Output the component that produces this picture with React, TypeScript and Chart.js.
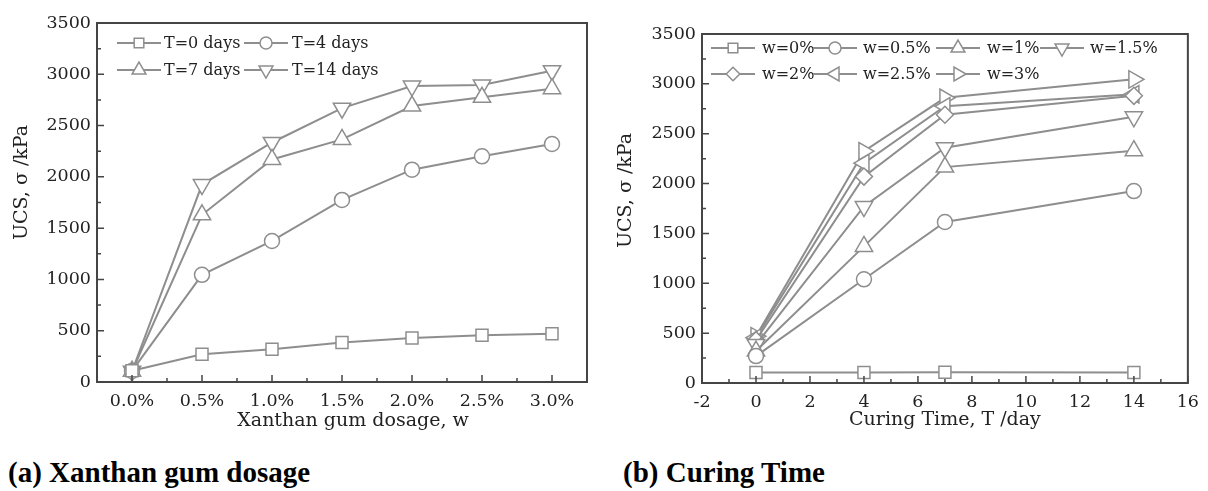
import React, { useEffect, useRef } from 'react';
import { Chart, registerables } from 'chart.js';
import { drawPoint } from 'chart.js/helpers';

Chart.register(...registerables);

// ---------- data: (a) Xanthan gum dosage ----------
const dosageLabels = ['0.0%', '0.5%', '1.0%', '1.5%', '2.0%', '2.5%', '3.0%'];
const seriesNamesA = ['T=0 days', 'T=4 days', 'T=7 days', 'T=14 days'];
const ucsT0 = [110, 270, 320, 385, 430, 455, 470];
const ucsT4 = [108, 1045, 1375, 1775, 2070, 2200, 2320];
const ucsT7 = [105, 1630, 2170, 2365, 2690, 2775, 2860];
const ucsT14 = [105, 1925, 2335, 2670, 2885, 2895, 3035];

// ---------- data: (b) Curing time ----------
const curingDays = [0, 4, 7, 14];
const seriesNamesB = ['w=0%', 'w=0.5%', 'w=1%', 'w=1.5%', 'w=2%', 'w=2.5%', 'w=3%'];
const ucsW0 = [105, 105, 108, 105];
const ucsW05 = [270, 1040, 1615, 1925];
const ucsW1 = [320, 1370, 2165, 2330];
const ucsW15 = [385, 1770, 2360, 2670];
const ucsW2 = [430, 2070, 2690, 2880];
const ucsW25 = [455, 2205, 2775, 2895];
const ucsW3 = [470, 2325, 2860, 3045];

// ---------- axis settings ----------
const ucsMin = 0;
const ucsMax = 3500;
const ucsStep = 500;
const curingMin = -2;
const curingMax = 16;
const curingStep = 2;

const titleA_x = 'Xanthan gum dosage, w';
const titleB_x = 'Curing Time, T /day';
const titleY = 'UCS, \u03c3 /kPa';

// ---------- styles ----------
const LINE = '#8e8e8e';
const FRAME = '#454545';
const TEXT = '#222222';
const FONT = '"DejaVu Serif", "Liberation Serif", serif';

type Marker = { style: string; r: number; rot: number };
const markersA: Marker[] = [
  { style: 'rect', r: 8.5, rot: 0 },
  { style: 'circle', r: 7.5, rot: 0 },
  { style: 'triangle', r: 10, rot: 0 },
  { style: 'triangle', r: 10, rot: 180 },
];
const markersB: Marker[] = [
  { style: 'rect', r: 8.5, rot: 0 },
  { style: 'circle', r: 7.5, rot: 0 },
  { style: 'triangle', r: 10, rot: 0 },
  { style: 'triangle', r: 10, rot: 180 },
  { style: 'rectRot', r: 8.5, rot: 0 },
  { style: 'triangle', r: 10, rot: 270 },
  { style: 'triangle', r: 10, rot: 90 },
];

function dsStyle(m: Marker) {
  return {
    borderColor: LINE,
    borderWidth: 2,
    pointStyle: m.style,
    pointRadius: m.r,
    pointHoverRadius: m.r,
    pointRotation: m.rot,
    pointBackgroundColor: '#ffffff',
    pointBorderColor: LINE,
    pointBorderWidth: 1.5,
    tension: 0,
    fill: false,
  };
}

type LegendPos = { mx: number; tx: number; row: number };
type DecorCfg = {
  xMajor: (s: any) => number[];
  xMinor: (s: any) => number[];
  legend: LegendPos[];
  legendRows: number[];
  xTitle: string;
  xTitleDx: number;
  xTitleDy: number;
  yTitleX: number;
  yTitleDy: number;
};

function ucsTickPixels(s: any, minor: boolean): number[] {
  const out: number[] = [];
  for (let v = ucsMin; v <= ucsMax; v += ucsStep / 2) {
    const isMinor = (v / (ucsStep / 2)) % 2 === 1;
    if (isMinor === minor) out.push(s.getPixelForValue(v));
  }
  return out;
}

function makeDecor(cfg: DecorCfg) {
  return {
    id: 'decor',
    afterDraw(chart: any) {
      const { ctx, chartArea: a, scales } = chart;
      const xs = scales.x;
      const ys = scales.y;
      ctx.save();
      // inward ticks
      ctx.strokeStyle = FRAME;
      ctx.lineWidth = 1.5;
      ctx.beginPath();
      cfg.xMajor(xs).forEach((p) => { ctx.moveTo(p, a.bottom); ctx.lineTo(p, a.bottom - 7); });
      cfg.xMinor(xs).forEach((p) => { ctx.moveTo(p, a.bottom); ctx.lineTo(p, a.bottom - 4); });
      ucsTickPixels(ys, false).forEach((p) => { ctx.moveTo(a.left, p); ctx.lineTo(a.left + 7, p); });
      ucsTickPixels(ys, true).forEach((p) => { ctx.moveTo(a.left, p); ctx.lineTo(a.left + 4, p); });
      ctx.stroke();
      // frame
      ctx.lineWidth = 2;
      ctx.strokeRect(a.left, a.top, a.right - a.left, a.bottom - a.top);

      // axis titles
      ctx.fillStyle = TEXT;
      ctx.font = `19px ${FONT}`;
      ctx.textAlign = 'center';
      ctx.textBaseline = 'middle';
      ctx.fillText(cfg.xTitle, (a.left + a.right) / 2 + cfg.xTitleDx, a.bottom + cfg.xTitleDy);
      ctx.save();
      ctx.translate(cfg.yTitleX, (a.top + a.bottom) / 2 + cfg.yTitleDy);
      ctx.rotate(-Math.PI / 2);
      ctx.fillText(titleY, 0, 0);
      ctx.restore();

      // legend
      ctx.font = `16px ${FONT}`;
      ctx.textAlign = 'left';
      cfg.legend.forEach((it, i) => {
        const ds = chart.data.datasets[i];
        const y = a.top + cfg.legendRows[it.row];
        const mx = a.left + it.mx;
        ctx.strokeStyle = LINE;
        ctx.lineWidth = 2;
        ctx.beginPath();
        ctx.moveTo(mx - 22, y);
        ctx.lineTo(mx + 22, y);
        ctx.stroke();
        ctx.fillStyle = '#ffffff';
        ctx.lineWidth = 1.5;
        drawPoint(ctx, {
          pointStyle: ds.pointStyle,
          radius: ds.pointRadius * 0.8,
          rotation: ds.pointRotation,
          borderWidth: 1.5,
        } as any, mx, y);
        ctx.fillStyle = TEXT;
        ctx.fillText(ds.label, a.left + it.tx, y + 1);
      });
      ctx.restore();
    },
  };
}

function yScale(width: number) {
  return {
    type: 'linear',
    min: ucsMin,
    max: ucsMax,
    ticks: {
      stepSize: ucsStep,
      callback: (v: any) => String(v),
      padding: 6,
      color: TEXT,
      font: { family: FONT, size: 17.5 },
    },
    grid: { display: false, drawTicks: false },
    border: { display: false },
    afterFit: (s: any) => { s.width = width; },
  };
}

function App() {
  const refA = useRef<HTMLCanvasElement | null>(null);
  const refB = useRef<HTMLCanvasElement | null>(null);

  useEffect(() => {
    const seriesA = [ucsT0, ucsT4, ucsT7, ucsT14];
    const chartA = new Chart(refA.current as HTMLCanvasElement, {
      type: 'line',
      data: {
        labels: dosageLabels,
        datasets: seriesA.map((d, i) => ({ label: seriesNamesA[i], data: d, ...dsStyle(markersA[i]) })),
      },
      options: {
        responsive: false,
        animation: false,
        layout: { padding: { left: 0, right: 13, top: 23, bottom: 0 } },
        plugins: { legend: { display: false }, tooltip: { enabled: false } },
        scales: {
          x: {
            type: 'category',
            offset: true,
            ticks: {
              padding: 9,
              maxRotation: 0,
              autoSkip: false,
              color: TEXT,
              font: { family: FONT, size: 17.5 },
            },
            grid: { display: false, drawTicks: false },
            border: { display: false },
            afterFit: (s: any) => { s.height = 58; },
          },
          y: yScale(97),
        },
      } as any,
      plugins: [
        makeDecor({
          xMajor: (s) => dosageLabels.map((_, i) => s.getPixelForValue(i)),
          xMinor: (s) => dosageLabels.slice(1).map((_, i) => (s.getPixelForValue(i) + s.getPixelForValue(i + 1)) / 2),
          legend: [
            { mx: 42, tx: 67, row: 0 },
            { mx: 169, tx: 195, row: 0 },
            { mx: 42, tx: 67, row: 1 },
            { mx: 169, tx: 195, row: 1 },
          ],
          legendRows: [20, 47],
          xTitle: titleA_x,
          xTitleDx: 11,
          xTitleDy: 39,
          yTitleX: 22,
          yTitleDy: -20,
        }),
      ],
    });

    const seriesB = [ucsW0, ucsW05, ucsW1, ucsW15, ucsW2, ucsW25, ucsW3];
    const curingMajor: number[] = [];
    const curingMinor: number[] = [];
    for (let v = curingMin; v <= curingMax; v += curingStep / 2) {
      if ((v - curingMin) % curingStep === 0) curingMajor.push(v); else curingMinor.push(v);
    }
    const chartB = new Chart(refB.current as HTMLCanvasElement, {
      type: 'line',
      data: {
        datasets: seriesB.map((d, i) => ({
          label: seriesNamesB[i],
          data: d.map((v, j) => ({ x: curingDays[j], y: v })),
          ...dsStyle(markersB[i]),
        })),
      },
      options: {
        responsive: false,
        animation: false,
        layout: { padding: { left: 0, right: 18, top: 34, bottom: 0 } },
        plugins: { legend: { display: false }, tooltip: { enabled: false } },
        scales: {
          x: {
            type: 'linear',
            min: curingMin,
            max: curingMax,
            ticks: {
              stepSize: curingStep,
              callback: (v: any) => String(v),
              padding: 9,
              maxRotation: 0,
              autoSkip: false,
              color: TEXT,
              font: { family: FONT, size: 17.5 },
            },
            grid: { display: false, drawTicks: false },
            border: { display: false },
            afterFit: (s: any) => { s.height = 57; },
          },
          y: yScale(98),
        },
      } as any,
      plugins: [
        makeDecor({
          xMajor: (s) => curingMajor.map((v) => s.getPixelForValue(v)),
          xMinor: (s) => curingMinor.map((v) => s.getPixelForValue(v)),
          legend: [
            { mx: 31, tx: 60, row: 0 },
            { mx: 133, tx: 161, row: 0 },
            { mx: 256, tx: 285, row: 0 },
            { mx: 360, tx: 388, row: 0 },
            { mx: 31, tx: 60, row: 1 },
            { mx: 133, tx: 161, row: 1 },
            { mx: 256, tx: 285, row: 1 },
          ],
          legendRows: [14, 40],
          xTitle: titleB_x,
          xTitleDx: 0,
          xTitleDy: 37,
          yTitleX: 22,
          yTitleDy: -18,
        }),
      ],
    });

    return () => {
      chartA.destroy();
      chartB.destroy();
    };
  }, []);

  const caption: React.CSSProperties = {
    position: 'absolute',
    top: 458,
    fontFamily: '"Liberation Serif", "Times New Roman", serif',
    fontWeight: 'bold',
    fontSize: 29,
    lineHeight: '29px',
    whiteSpace: 'nowrap',
    color: '#000',
  };

  return (
    <div style={{ position: 'fixed', left: 0, top: 0, width: 1208, height: 491, background: '#fff', overflow: 'hidden' }}>
      <canvas ref={refA} width={600} height={440} style={{ position: 'absolute', left: 0, top: 0 }} />
      <canvas ref={refB} width={604} height={440} style={{ position: 'absolute', left: 604, top: 0 }} />
      <div style={{ ...caption, left: 8 }}>(a) Xanthan gum dosage</div>
      <div style={{ ...caption, left: 623 }}>(b) Curing Time</div>
    </div>
  );
}

export default App;
